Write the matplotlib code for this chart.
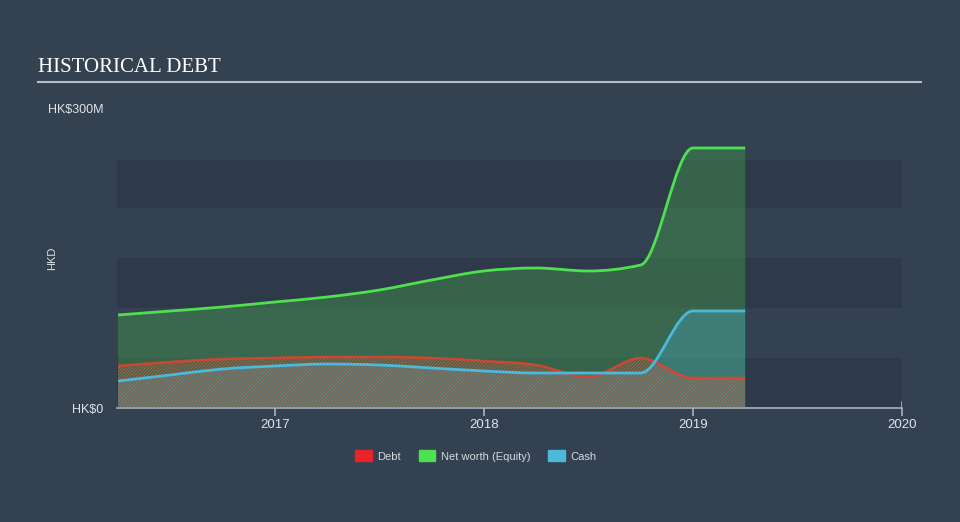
import numpy as np
import matplotlib
matplotlib.use("Agg")
import matplotlib.pyplot as plt
from matplotlib.path import Path
from matplotlib.patches import PathPatch, Patch

# values, HK$ millions, quarterly
years = [2016.25, 2016.5, 2016.75, 2017.0, 2017.25, 2017.5, 2017.75,
         2018.0, 2018.25, 2018.5, 2018.75, 2019.0, 2019.25]
net_worth = [93, 97, 101, 106, 111, 118, 128, 137, 140, 137, 143, 260, 260]
cash = [27, 33, 39, 42, 44, 43, 40, 37, 35, 35, 35, 97, 97]
debt = [42, 46, 49, 50, 51, 51, 50, 47, 43, 31, 50, 30, 30]

x_ticks = [2017, 2018, 2019, 2020]

BG = "#344150"
BAND = "#2e3a49"
GREEN = "#4fe04f"
BLUE = "#4bb8dc"
RED = "#e2432d"


def monotone_slopes(x, y):
    x = np.asarray(x, float)
    y = np.asarray(y, float)
    h = np.diff(x)
    d = np.diff(y) / h
    m = np.zeros(len(x))
    for i in range(1, len(x) - 1):
        if d[i - 1] * d[i] <= 0:
            m[i] = 0
        else:
            p = (d[i - 1] * h[i] + d[i] * h[i - 1]) / (h[i - 1] + h[i])
            m[i] = (np.sign(d[i - 1]) + np.sign(d[i])) * min(abs(d[i - 1]), abs(d[i]), 0.5 * abs(p))
    m[0] = (3 * d[0] - m[1]) / 2
    m[-1] = (3 * d[-1] - m[-2]) / 2
    return m


def smooth_path(x, y, close=False):
    m = monotone_slopes(x, y)
    verts = [(x[0], y[0])]
    codes = [Path.MOVETO]
    for i in range(len(x) - 1):
        h = (x[i + 1] - x[i]) / 3
        verts += [(x[i] + h, y[i] + m[i] * h),
                  (x[i + 1] - h, y[i + 1] - m[i + 1] * h),
                  (x[i + 1], y[i + 1])]
        codes += [Path.CURVE4] * 3
    if close:
        verts += [(x[-1], 0), (x[0], 0), (x[0], y[0])]
        codes += [Path.LINETO, Path.LINETO, Path.CLOSEPOLY]
    return Path(verts, codes)


plt.rcParams['hatch.linewidth'] = 0.8
plt.rcParams['font.family'] = ['Liberation Sans', 'DejaVu Sans']

fig = plt.figure(figsize=(9.6, 5.22), dpi=100, facecolor=BG)
ax = fig.add_axes([117 / 960, 1 - 408 / 522, (902 - 117) / 960, 300 / 522])
ax.set_facecolor(BG)
ax.set_xlim(2016.245, 2020)
ax.set_ylim(0, 300)

# background bands
for lo, hi in [(0, 50), (100, 150), (200, 248)]:
    ax.axhspan(lo, hi, color=BAND, lw=0, zorder=0)

ax.add_patch(PathPatch(smooth_path(years, net_worth, True), facecolor=GREEN, alpha=0.25, lw=0, zorder=1))
ax.add_patch(PathPatch(smooth_path(years, cash, True), facecolor=BLUE, alpha=0.28, lw=0, zorder=2))
ax.add_patch(PathPatch(smooth_path(years, debt, True), facecolor=(0.89, 0.26, 0.18, 0.06),
                       edgecolor=(0.85, 0.4, 0.3, 0.6), hatch='//////////', lw=0, zorder=3))

ax.add_patch(PathPatch(smooth_path(years, net_worth), fill=False, edgecolor=GREEN, lw=2, zorder=5))
ax.add_patch(PathPatch(smooth_path(years, debt), fill=False, edgecolor=RED, lw=1.8, zorder=5, alpha=0.85))
ax.add_patch(PathPatch(smooth_path(years, cash), fill=False, edgecolor=BLUE, lw=2, zorder=6))

for s in ['top', 'right', 'left']:
    ax.spines[s].set_visible(False)
ax.spines['bottom'].set_color("#a9b4c0")
ax.spines['bottom'].set_linewidth(1.2)
ax.axvline(2020, ymin=0, ymax=6 / 300, color="#a9b4c0", lw=1.2)

ax.set_xticks(x_ticks)
ax.set_xticklabels([str(t) for t in x_ticks])
ax.tick_params(axis='x', colors="#a9b4c0", length=6, width=1.2, labelcolor="#e0e4e8",
               labelsize=9.5, pad=2)
ax.set_yticks([0, 300])
ax.set_yticklabels(["HK$0", "HK$300M"])
ax.tick_params(axis='y', length=0, labelcolor="#e0e4e8", labelsize=9, pad=10)

fig.text(52 / 960, 1 - 258 / 522, "HKD", rotation=90, color="#e0e4e8", fontsize=8,
         ha='center', va='center')

fig.text(38 / 960, 1 - 67 / 522, "HISTORICAL DEBT", family="Liberation Serif",
         fontsize=15, color="white", ha='left', va='center')
fig.add_artist(plt.Line2D([38 / 960, 921 / 960], [1 - 82 / 522, 1 - 82 / 522],
                          color="#b5bcc4", lw=1.5))

handles = [Patch(color="#e8242a", label="Debt"),
           Patch(color=GREEN, label="Net worth (Equity)"),
           Patch(color=BLUE, label="Cash")]
leg = fig.legend(handles=handles, loc='center', bbox_to_anchor=(476 / 960, 1 - 456 / 522),
                 ncol=3, frameon=False, fontsize=8, handlelength=1.5, handleheight=1.1,
                 columnspacing=1.6, handletextpad=0.5)
for t in leg.get_texts():
    t.set_color("#d5dadf")

fig.savefig("out.png", dpi=100, facecolor=BG)
